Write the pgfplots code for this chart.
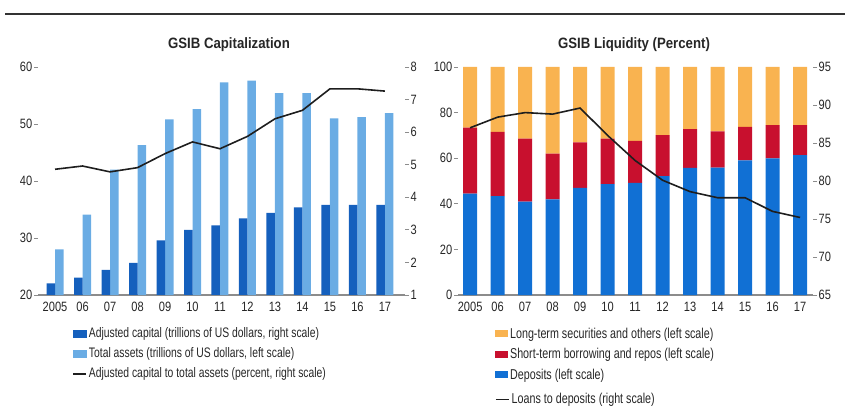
\documentclass[border=0pt]{standalone}
\usepackage{fontspec}
\setmainfont{Liberation Sans}[FakeStretch=0.75]
\newfontfamily\tickfont{Liberation Sans}[FakeStretch=0.82]
\newfontfamily\titlefont{Liberation Sans}[FakeStretch=0.88]
\usepackage{pgfplots}
\pgfplotsset{compat=1.18}
\definecolor{capdark}{HTML}{1560BD}
\definecolor{caplight}{HTML}{6AACE4}
\definecolor{depblue}{HTML}{1170D4}
\definecolor{stred}{HTML}{C8102E}
\definecolor{ltorange}{HTML}{F9B350}
\definecolor{axgray}{HTML}{8C8C8C}
\definecolor{linecol}{HTML}{1E1E1E}
\definecolor{txt}{HTML}{262626}
\pgfplotsset{
  base/.style={scale only axis, /pgf/number format/assume math mode=true,
    tick label style={font=\tickfont\fontsize{13.5}{15}\selectfont, text=txt},
    yticklabel style={inner xsep=1.5pt},
    tick align=outside, major tick length=4pt,
    ytick style={axgray, line width=0.8pt}, xtick style={draw=none},
    y axis line style={draw=none}, clip=true},
  legrect/.style={legend image code/.code={\fill[#1] (0pt,-3.5pt) rectangle (13pt,3.5pt);}},
  legline/.style={legend image code/.code={\draw[linecol, line width=1.6pt] (0pt,0pt) -- (13pt,0pt);}},
  legsty/.style={legend style={draw=none, fill=none, inner sep=0pt, row sep=4.5pt,
    font=\fontsize{14}{15}\selectfont, text=txt, cells={anchor=west}}},
}
\pgfplotstableread{
x ta cap ratio
0 28.0 1.36 4.86
1 34.1 1.53 4.96
2 42.0 1.77 4.78
3 46.3 1.99 4.91
4 50.8 2.68 5.34
5 52.6 3.00 5.70
6 57.3 3.14 5.49
7 57.6 3.35 5.87
8 55.4 3.52 6.41
9 55.4 3.69 6.67
10 51.0 3.77 7.33
11 51.2 3.77 7.33
12 51.9 3.77 7.26
}\captab
\pgfplotstableread{
x dep st lt ltd
0 44.5 28.9 26.6 87.0
1 43.4 28.1 28.5 88.4
2 40.9 27.7 31.4 89.0
3 41.9 20.1 38.0 88.8
4 47.0 19.9 33.1 89.6
5 48.6 20.0 31.4 86.0
6 49.2 18.4 32.4 82.7
7 52.1 18.0 29.9 80.1
8 55.8 16.9 27.3 78.6
9 55.9 15.9 28.2 77.8
10 59.1 14.6 26.3 77.8
11 59.9 14.6 25.5 76.0
12 61.3 13.2 25.5 75.2
}\liqtab
\begin{document}
\begin{tikzpicture}
\path[use as bounding box] (0pt,0pt) rectangle (845pt,412pt);
\draw[line width=2.2pt, black!80] (5pt,398pt) -- (845pt,398pt);
\node[text=txt, font=\titlefont\bfseries\fontsize{15}{16}\selectfont] at (229pt,367pt) {GSIB Capitalization};
\node[text=txt, font=\titlefont\bfseries\fontsize{15}{16}\selectfont] at (634pt,367pt) {GSIB Liquidity (Percent)};

% ---- Left panel, left scale
\begin{axis}[base, at={(38pt,117pt)}, anchor=south west, width=367pt, height=228pt,
  xmin=-0.62, xmax=12.73, ymin=20, ymax=60, ytick={20,30,40,50,60},
  axis x line*=bottom, axis y line*=left, x axis line style={axgray, line width=1.3pt},
  xtick={0,...,12}, xticklabels={2005,06,07,08,09,10,11,12,13,14,15,16,17},
  legsty, legend style={at={(axis description cs:0.093,-0.135)}, anchor=north west,
    font=\fontsize{13.8}{15}\selectfont}]
\addlegendimage{legrect=capdark}
\addlegendentry{Adjusted capital (trillions of US dollars, right scale)}
\addlegendimage{legrect=caplight}
\addlegendentry{Total assets (trillions of US dollars, left scale)}
\addlegendimage{legline}
\addlegendentry{Adjusted capital to total assets (percent, right scale)}
\addplot[ybar, bar width=8.5pt, bar shift=4.25pt, fill=caplight, draw=none, forget plot] table[x=x,y=ta]{\captab};
\end{axis}
% ---- Left panel, right scale
\begin{axis}[base, at={(38pt,117pt)}, anchor=south west, width=367pt, height=228pt,
  xmin=-0.62, xmax=12.73, ymin=1, ymax=8, ytick={1,...,8},
  axis x line=none, axis y line*=right, xtick=\empty]
\addplot[ybar, bar width=8.5pt, bar shift=-4.25pt, fill=capdark, draw=none] table[x=x,y=cap]{\captab};
\addplot[sharp plot, linecol, line width=1.6pt] table[x=x,y=ratio]{\captab};
\end{axis}

% ---- Right panel, left scale
\begin{axis}[base, at={(458pt,117pt)}, anchor=south west, width=355pt, height=228pt,
  xmin=-0.44, xmax=12.47, ymin=0, ymax=100, ytick={0,20,...,100},
  ybar stacked, bar width=14pt,
  axis x line*=bottom, axis y line*=left, x axis line style={axgray, line width=1.3pt},
  xtick={0,...,12}, xticklabels={2005,06,07,08,09,10,11,12,13,14,15,16,17},
  legsty, legend style={at={(axis description cs:0.104,-0.135)}, anchor=north west,
    font=\fontsize{14.3}{15}\selectfont},
  reverse legend]
\addplot[fill=depblue, draw=none, legrect=depblue] table[x=x,y=dep]{\liqtab};
\addplot[fill=stred, draw=none, legrect=stred] table[x=x,y=st]{\liqtab};
\addplot[fill=ltorange, draw=none, legrect=ltorange] table[x=x,y=lt]{\liqtab};
\legend{Deposits (left scale),Short-term borrowing and repos (left scale),Long-term securities and others (left scale)}
\end{axis}
% ---- Right panel, right scale
\begin{axis}[base, at={(458pt,117pt)}, anchor=south west, width=355pt, height=228pt,
  xmin=-0.44, xmax=12.47, ymin=65, ymax=95, ytick={65,70,...,95},
  axis x line=none, axis y line*=right, xtick=\empty,
  legsty, legend style={at={(axis description cs:0.104,-0.135-0.287)}, anchor=north west,
    font=\fontsize{14.3}{15}\selectfont}]
\addplot[sharp plot, linecol, line width=1.6pt, legline] table[x=x,y=ltd]{\liqtab};
\addlegendentry{Loans to deposits (right scale)}
\end{axis}
\end{tikzpicture}
\end{document}
